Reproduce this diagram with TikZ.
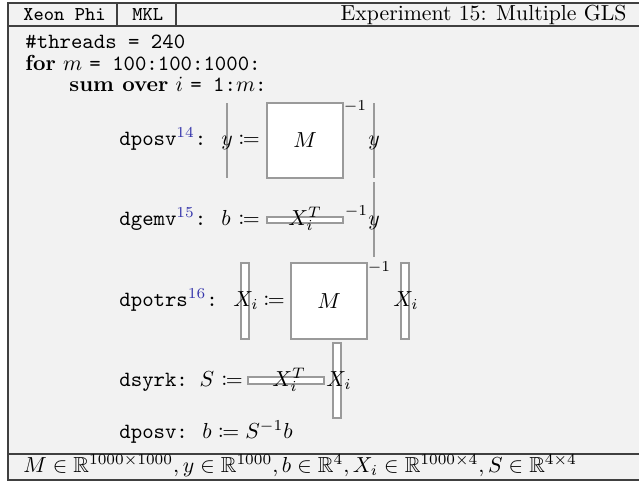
\documentclass[tikz,border=0pt]{standalone}
\usepackage{amsmath,amssymb,mathtools}
\usepackage{tikz}

\definecolor{panelbg}{HTML}{F2F2F2}
\definecolor{panelrule}{HTML}{404040}
\definecolor{boxrule}{HTML}{9A9A9A}
\definecolor{citeblue}{HTML}{3333AA}
\newcommand{\citemark}[1]{$^{\textcolor{citeblue}{#1}}$}

\begin{document}
\begin{tikzpicture}[x=0.46pt,y=-0.46pt,
  code/.style={anchor=base west,inner sep=0pt},
  sym/.style={anchor=base,inner sep=0pt},
  inv/.style={inner sep=0pt,font=\scriptsize},
  mat/.style={draw=boxrule,fill=white,line width=0.5pt},
  vecline/.style={draw=boxrule,line width=0.5pt}]
\useasboundingbox (0,0) rectangle (639,481);
% panel
\fill[panelbg] (8,3) rectangle (660,480);
\draw[panelrule,line width=0.9pt] (8,3) rectangle (660,480);
\draw[panelrule,line width=0.9pt] (8,26) -- (660,26);
\draw[panelrule,line width=0.9pt] (8,454) -- (660,454);
\draw[panelrule,line width=0.5pt] (117,3) -- (117,26);
\draw[panelrule,line width=0.5pt] (176,3) -- (176,26);
\node[anchor=west,inner sep=0pt] (machine) at (23,14.5) {\small\texttt{Xeon Phi}};
\node[anchor=west,inner sep=0pt] (library) at (132,14.5) {\small\texttt{MKL}};
\node[anchor=east,inner sep=0pt] (title) at (627,14.5) {Experiment 15: Multiple GLS};
% loop header
\node[code] (threads) at (25,48) {\texttt{\#threads = 240}};
\node[code] (forloop) at (25,70) {\textbf{for} $m$ \texttt{= 100:100:1000:}};
\node[code] (sumloop) at (69,91) {\textbf{sum over} $i$ \texttt{= 1:}$m$\texttt{:}};
% operand shapes
\foreach \xa/\ya/\xb/\yb in {267/103/343/178, 267/217/343/223, 241/263/249/339,
    291/263/367/339, 401/263/409/339, 248/377/324/384, 333/343/341/418}
  \draw[mat] (\xa,\ya) rectangle (\xb,\yb);
\draw[vecline] (227,103) -- (227,178);
\draw[vecline] (374,103) -- (374,178);
\draw[vecline] (374,182) -- (374,257);
% dposv
\node[code] (posvA) at (119,145) {\texttt{dposv}\citemark{14}\texttt{:}};
\node[sym] (yA) at (227,145) {$y$};
\node[sym] (asA) at (249,145) {$\coloneqq$};
\node (MA) at (305,140) {$M$};
\node[inv] (invA) at (355,106) {$-1$};
\node[sym] (yB) at (374,145) {$y$};
% dgemv
\node[code] (gemv) at (119,225) {\texttt{dgemv}\citemark{15}\texttt{:}};
\node[sym] (bA) at (226,225) {$b$};
\node[sym] (asB) at (249,225) {$\coloneqq$};
\node[code] (XtA) at (288,225) {$X_i^T$};
\node[inv] (invB) at (356,211) {$-1$};
\node[sym] (yC) at (374,225) {$y$};
% dpotrs
\node[code] (potrs) at (119,306) {\texttt{dpotrs}\citemark{16}\texttt{:}};
\node[code] (XA) at (233,306) {$X_i$};
\node[sym] (asC) at (274,306) {$\coloneqq$};
\node (MB) at (329,301) {$M$};
\node[inv] (invC) at (379,267) {$-1$};
\node[code] (XB) at (393,306) {$X_i$};
% dsyrk
\node[code] (syrk) at (119,386) {\texttt{dsyrk:}};
\node[sym] (SA) at (207,386) {$S$};
\node[sym] (asD) at (232,386) {$\coloneqq$};
\node[code] (XtB) at (272,386) {$X_i^T$};
\node[code] (XC) at (326,386) {$X_i$};
% dposv
\node[code] (posvB) at (119,438) {\texttt{dposv:}};
\node[code] (solve) at (202,438) {$b \coloneqq S^{-1}b$};
% sizes
\node[anchor=west,inner sep=0pt] (sizes) at (23,466)
  {$M \in \mathbb{R}^{1000\times1000}, y \in \mathbb{R}^{1000}, b \in \mathbb{R}^4, X_i \in \mathbb{R}^{1000\times4}, S \in \mathbb{R}^{4\times4}$};
\end{tikzpicture}
\end{document}
